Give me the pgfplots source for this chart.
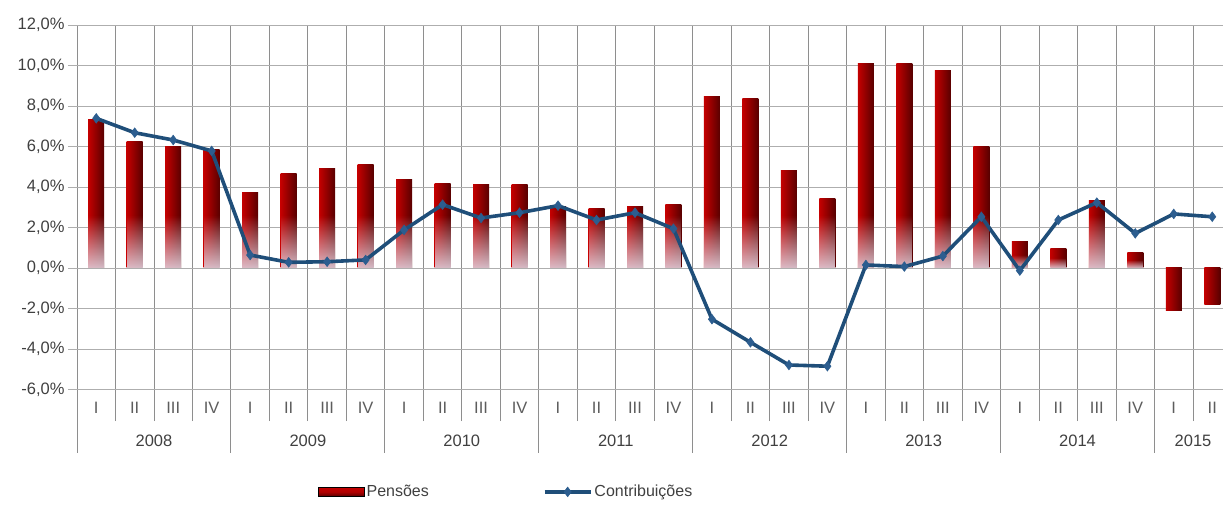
\documentclass[border=0pt]{standalone}
\usepackage{pgfplots}
\usepackage{pgfplotstable}
\pgfplotsset{compat=1.18}
\usepackage{fontspec}
\setmainfont{Liberation Sans}
\usetikzlibrary{fadings}

\definecolor{barL}{HTML}{C40000}
\definecolor{barM}{HTML}{B00000}
\definecolor{barR}{HTML}{580000}
\definecolor{lineblue}{HTML}{1F4E79}
\definecolor{markblue}{HTML}{2C5D8F}
\definecolor{gridv}{HTML}{8E8E8E}
\definecolor{gridh}{HTML}{AEAEAE}
\definecolor{txt}{HTML}{404040}
\definecolor{fadecol}{HTML}{E0CCD8}

\pgfplotsset{
  barleg/.style={legend image code/.code={\fill[top color=barL, bottom color=barR, middle color=barM] (0pt,-4.5pt) rectangle (46pt,4.5pt);}},
  lineleg/.style={legend image code/.code={\draw[mark repeat=2, mark phase=2, ##1] plot coordinates {(0pt,0pt) (23pt,0pt) (46pt,0pt)};}},
  barstyle/.style={ybar, bar width=16pt, bar shift=0pt, draw=none,
     left color=barL, middle color=barM, right color=barR, forget plot},
  fadestyle/.style={ybar, bar width=16pt, bar shift=0pt, draw=none, fill=fadecol,
     fill opacity=0.92, path fading=north, forget plot},
}

\pgfplotstableread{
x pens contr
0 7.35 7.39
1 6.24 6.68
2 5.99 6.32
3 5.84 5.78
4 3.72 0.64
5 4.69 0.28
6 4.89 0.31
7 5.09 0.40
8 4.35 1.88
9 4.16 3.13
10 4.10 2.47
11 4.10 2.73
12 3.03 3.08
13 2.93 2.37
14 3.06 2.73
15 3.13 1.94
16 8.49 -2.53
17 8.38 -3.67
18 4.81 -4.79
19 3.44 -4.85
20 10.12 0.15
21 10.12 0.07
22 9.74 0.59
23 5.99 2.53
24 1.30 -0.13
25 0.97 2.37
26 3.31 3.23
27 0.78 1.71
28 -2.10 2.67
29 -1.78 2.53
}\datatable

\pgfplotstableread{
x fade
0 2.6
1 2.6
2 2.6
3 2.6
4 2.6
5 2.6
6 2.6
7 2.6
8 2.6
9 2.6
10 2.6
11 2.6
12 2.6
13 2.6
14 2.6
15 2.6
16 2.6
17 2.6
18 2.6
19 2.6
20 2.6
21 2.6
22 2.6
23 2.6
24 0.65
25 0.5
26 2.6
27 0.4
}\fadetable

\begin{document}
\begin{tikzpicture}
\begin{axis}[
  at={(0pt,0pt)}, anchor=south west,
  scale only axis, width=1146pt, height=396pt,
  xmin=-0.5, xmax=29.28, ymin=-7.556, ymax=12,
  clip=false,
  axis line style={draw=none},
  ytick={-6,-4,...,12},
  ymajorgrids,
  y grid style={gridh, line width=0.9pt},
  tick align=outside,
  ytick style={draw=gridh, line width=0.9pt},
  major tick length=9pt,
  /pgf/number format/assume math mode=true,
  yticklabel style={/pgf/number format/.cd, fixed, fixed zerofill, precision=1, use comma},
  yticklabel={\pgfmathprintnumber{\tick}\%},
  tick label style={font=\fontsize{16.5}{19}\selectfont, text=txt},
  xtick={-0.5,0.5,...,28.5},
  xticklabels={},
  xmajorgrids,
  x grid style={gridv, line width=0.9pt},
  xtick style={draw=none},
  extra x ticks={0,1,...,29},
  extra x tick labels={I,II,III,IV,I,II,III,IV,I,II,III,IV,I,II,III,IV,I,II,III,IV,I,II,III,IV,I,II,III,IV,I,II},
  extra x tick style={grid=none, major tick length=0pt,
     tick label style={anchor=center, yshift=13pt, text=txt!85}},
  legend columns=2,
  legend style={at={(0.2103,-0.179)}, anchor=west, draw=none, fill=none,
     font=\fontsize{16}{19}\selectfont, text=txt,
     /tikz/every even column/.append style={column sep=112pt},
     inner sep=0pt},
]
\pgfplotsinvokeforeach{0,...,29}{
  \addplot[barstyle, restrict expr to domain={\coordindex}{#1:#1}]
     table[x=x, y=pens] {\datatable};
}
\pgfplotsinvokeforeach{0,...,27}{
  \addplot[fadestyle, restrict expr to domain={\coordindex}{#1:#1}]
     table[x=x, y=fade] {\fadetable};
}
\addlegendimage{barleg}
\addlegendentry{Pensões}
\addplot[color=lineblue, line width=3.6pt, mark=diamond*, mark size=4.8pt,
   mark options={fill=markblue, draw=markblue, line width=0.6pt}, lineleg]
   table[x=x, y=contr] {\datatable};
\addlegendentry{Contribuições}

\draw[gridv, line width=0.9pt] (axis cs:-0.5,-7.556) -- ++(0pt,-32pt);
\draw[gridv, line width=0.9pt] (axis cs:3.5,-7.556) -- ++(0pt,-32pt);
\draw[gridv, line width=0.9pt] (axis cs:7.5,-7.556) -- ++(0pt,-32pt);
\draw[gridv, line width=0.9pt] (axis cs:11.5,-7.556) -- ++(0pt,-32pt);
\draw[gridv, line width=0.9pt] (axis cs:15.5,-7.556) -- ++(0pt,-32pt);
\draw[gridv, line width=0.9pt] (axis cs:19.5,-7.556) -- ++(0pt,-32pt);
\draw[gridv, line width=0.9pt] (axis cs:23.5,-7.556) -- ++(0pt,-32pt);
\draw[gridv, line width=0.9pt] (axis cs:27.5,-7.556) -- ++(0pt,-32pt);
\node[font=\fontsize{16.5}{19}\selectfont, text=txt, yshift=-20pt] at (axis cs:1.5,-7.556) {2008};
\node[font=\fontsize{16.5}{19}\selectfont, text=txt, yshift=-20pt] at (axis cs:5.5,-7.556) {2009};
\node[font=\fontsize{16.5}{19}\selectfont, text=txt, yshift=-20pt] at (axis cs:9.5,-7.556) {2010};
\node[font=\fontsize{16.5}{19}\selectfont, text=txt, yshift=-20pt] at (axis cs:13.5,-7.556) {2011};
\node[font=\fontsize{16.5}{19}\selectfont, text=txt, yshift=-20pt] at (axis cs:17.5,-7.556) {2012};
\node[font=\fontsize{16.5}{19}\selectfont, text=txt, yshift=-20pt] at (axis cs:21.5,-7.556) {2013};
\node[font=\fontsize{16.5}{19}\selectfont, text=txt, yshift=-20pt] at (axis cs:25.5,-7.556) {2014};
\node[font=\fontsize{16.5}{19}\selectfont, text=txt, yshift=-20pt] at (axis cs:28.5,-7.556) {2015};
\end{axis}
\pgfresetboundingbox
\useasboundingbox (-77pt,-83pt) rectangle (1146pt,421pt);
\end{tikzpicture}
\end{document}
